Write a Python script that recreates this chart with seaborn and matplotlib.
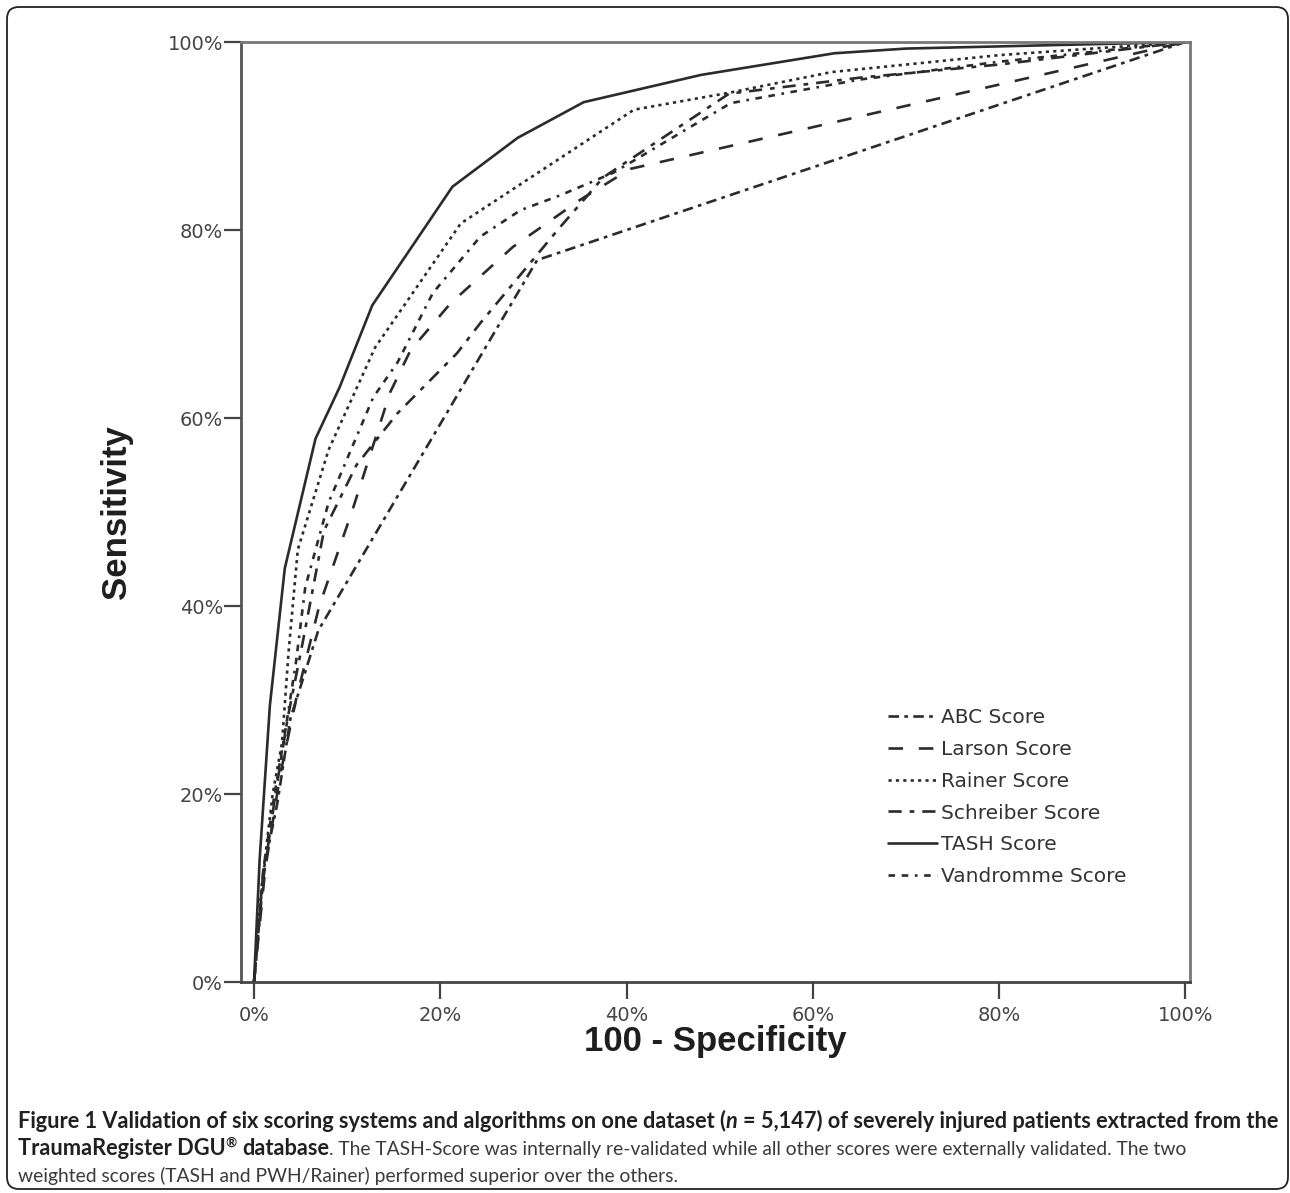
import matplotlib
matplotlib.use("Agg")
import matplotlib.pyplot as plt
from matplotlib.patches import FancyBboxPatch
import pandas as pd
import seaborn as sns

# --- дані (у відсотках) ---
tash_fpr = [0, 0.6, 1.7, 3.3, 6.6, 9.2, 12.7, 21.3, 28.3, 35.4, 48.0, 62.3, 70.0, 100]
tash_tpr = [0, 13.0, 29.4, 44.0, 57.8, 63.3, 72.0, 84.6, 89.8, 93.6, 96.5, 98.8, 99.3, 100]

rainer_fpr = [0, 0.8, 2.0, 3.0, 3.7, 4.7, 8.0, 13.0, 22.2, 40.8, 51.0, 62.0, 80.0, 100]
rainer_tpr = [0, 10.0, 20.0, 25.4, 35.0, 46.0, 56.6, 67.5, 80.7, 92.8, 94.6, 96.8, 98.6, 100]

abc_fpr = [0, 1.0, 2.5, 3.9, 6.9, 30.4, 100]
abc_tpr = [0, 11.8, 19.0, 28.0, 37.4, 76.8, 100]

larson_fpr = [0, 1.2, 2.8, 4.5, 7.0, 10.5, 14.6, 16.8, 21.1, 27.8, 35.0, 40.4, 100]
larson_tpr = [0, 12.0, 22.0, 30.0, 40.0, 50.0, 62.7, 67.2, 72.2, 78.2, 83.2, 86.5, 100]

schreiber_fpr = [0, 1.0, 2.3, 3.6, 5.2, 7.5, 11.0, 15.4, 21.8, 24.3, 32.6, 37.5, 51.0, 65.0, 80.0, 100]
schreiber_tpr = [0, 11.0, 20.0, 28.0, 36.0, 48.0, 55.0, 60.5, 66.9, 70.1, 80.0, 85.6, 94.5, 96.2, 97.6, 100]

vandromme_fpr = [0, 1.0, 2.2, 3.4, 4.5, 5.5, 8.0, 12.8, 15.4, 19.2, 24.3, 28.6, 32.9, 38.6, 47.6, 51.2, 65.0, 80.0, 100]
vandromme_tpr = [0, 12.0, 20.0, 27.0, 34.0, 42.0, 51.0, 62.2, 65.9, 73.3, 79.3, 82.1, 83.7, 86.1, 91.4, 93.5, 96.0, 97.9, 100]

score_names = ["ABC Score", "Larson Score", "Rainer Score", "Schreiber Score", "TASH Score", "Vandromme Score"]
tick_values = [0, 20, 40, 60, 80, 100]
tick_labels = ["0%", "20%", "40%", "60%", "80%", "100%"]

caption_line1 = [
    ("Figure 1 Validation of six scoring systems and algorithms on one dataset (", "bold", "normal"),
    ("n", "bold", "italic"),
    (" = 5,147) of severely injured patients extracted from the", "bold", "normal"),
]
caption_line2 = [
    ("TraumaRegister DGU", "bold", "normal"),
    ("®", "bold", "sup"),
    (" database", "bold", "normal"),
    (". The TASH-Score was internally re-validated while all other scores were externally validated. The two", "normal", "normal"),
]
caption_line3 = [
    ("weighted scores (TASH and PWH/Rainer) performed superior over the others.", "normal", "normal"),
]

# --- таблиця для seaborn ---
curves = {
    "ABC Score": (abc_fpr, abc_tpr),
    "Larson Score": (larson_fpr, larson_tpr),
    "Rainer Score": (rainer_fpr, rainer_tpr),
    "Schreiber Score": (schreiber_fpr, schreiber_tpr),
    "TASH Score": (tash_fpr, tash_tpr),
    "Vandromme Score": (vandromme_fpr, vandromme_tpr),
}
frames = []
for name, (fpr, tpr) in curves.items():
    frames.append(pd.DataFrame({"fpr": fpr, "tpr": tpr, "score": name}))
df = pd.concat(frames, ignore_index=True)

dash_map = {
    "ABC Score": (4, 2, 1.4, 2),
    "Larson Score": (5.5, 6),
    "Rainer Score": (1.2, 1.6),
    "Schreiber Score": (5, 3, 1.8, 3),
    "TASH Score": "",
    "Vandromme Score": (2.5, 2.5, 2.5, 2.5, 1, 2.5),
}
palette = {name: "#2b2b2b" for name in score_names}

W, H = 1290, 1193
sns.set_theme(style="white")
plt.rcParams["font.family"] = ["DejaVu Sans"]

fig = plt.figure(figsize=(W / 100, H / 100), dpi=100)
ax = fig.add_axes([241 / W, 1 - 982 / H, (1190 - 241) / W, (982 - 42) / H])

sns.lineplot(
    data=df, x="fpr", y="tpr", hue="score", style="score",
    hue_order=score_names, style_order=score_names,
    palette=palette, dashes=dash_map, sort=False, estimator=None,
    linewidth=1.9, ax=ax,
)

ax.set_xlim(-1.4, 100.5)
ax.set_ylim(0, 100)
ax.set_xticks(tick_values)
ax.set_xticklabels(tick_labels)
ax.set_yticks(tick_values)
ax.set_yticklabels(tick_labels)
ax.tick_params(axis="both", direction="out", length=12, width=1.6, color="#444444",
               labelsize=14, labelcolor="#444444", bottom=True, left=True)
ax.tick_params(axis="x", pad=5)
ax.tick_params(axis="y", pad=1)
for side in ["left", "bottom", "top", "right"]:
    ax.spines[side].set_visible(True)
    ax.spines[side].set_linewidth(2)
ax.spines["left"].set_color("#555555")
ax.spines["bottom"].set_color("#444444")
ax.spines["top"].set_color("#777777")
ax.spines["right"].set_color("#777777")

ax.set_xlabel("100 - Specificity", family="Liberation Sans", fontsize=25,
              fontweight="bold", color="#1e1e1e")
ax.set_ylabel("Sensitivity", family="Liberation Sans", fontsize=25,
              fontweight="bold", color="#1e1e1e")
ax.xaxis.set_label_coords(0.5, -0.046)
ax.yaxis.set_label_coords(-0.114, 0.5)

handles, labels = ax.get_legend_handles_labels()
ax.legend(handles, labels, loc="upper left", bbox_to_anchor=(0.682, 0.291),
          frameon=False, borderaxespad=0, borderpad=0, fontsize=14.5,
          handlelength=2.4, handletextpad=0.2, labelspacing=0.63,
          labelcolor="#333333")

# --- підпис під рисунком ---
renderer = fig.canvas.get_renderer()
cap_family = "Lato"
sizes = {"bold": 13, "normal": 13}


def space_width(size, weight):
    a = fig.text(0, 0, "x x", fontsize=size, fontweight=weight, family=cap_family)
    b = fig.text(0, 0, "xx", fontsize=size, fontweight=weight, family=cap_family)
    w = a.get_window_extent(renderer).width - b.get_window_extent(renderer).width
    a.remove()
    b.remove()
    return w


def draw_runs(runs, x_px, y_px, keep=True):
    x = x_px
    made = []
    widths = {"bold": 0.0, "normal": 0.0}
    for text, weight, style in runs:
        size = sizes[weight]
        start = x
        lead = len(text) - len(text.lstrip(" "))
        body = text.strip(" ")
        x += lead * space_width(size, weight)
        if style == "sup":
            t = fig.text(x / W, 1 - (y_px - size * 0.55) / H, body, fontsize=size * 0.62,
                         fontweight=weight, family=cap_family, color="#231f20", va="baseline")
        else:
            color = "#231f20" if weight == "bold" else "#3a3a3a"
            t = fig.text(x / W, 1 - y_px / H, body, fontsize=size, fontweight=weight,
                         fontstyle=style, family=cap_family, color=color, va="baseline")
        x += t.get_window_extent(renderer).width
        trail = len(text) - len(text.rstrip(" "))
        x += trail * space_width(size, weight)
        widths[weight] += x - start
        made.append(t)
    if not keep:
        for t in made:
            t.remove()
    return widths


# підганяємо розмір шрифту під ширину рядків оригіналу
w1 = draw_runs(caption_line1, 18, 1128, keep=False)
sizes["bold"] = 13 * (1275 - 18) / w1["bold"]
w2 = draw_runs(caption_line2, 18, 1155, keep=False)
sizes["normal"] = 13 * (1187 - 18 - w2["bold"]) / w2["normal"]

draw_runs(caption_line1, 18, 1128)
draw_runs(caption_line2, 18, 1155)
draw_runs(caption_line3, 18, 1182)

# рамка навколо всього рисунка
fig.add_artist(FancyBboxPatch((7, 4), 1281, 1182,
                              boxstyle="round,pad=0,rounding_size=12",
                              transform=None, fill=False, lw=1.3, ec="#222222"))

fig.savefig("out.png", dpi=100)
plt.close(fig)
